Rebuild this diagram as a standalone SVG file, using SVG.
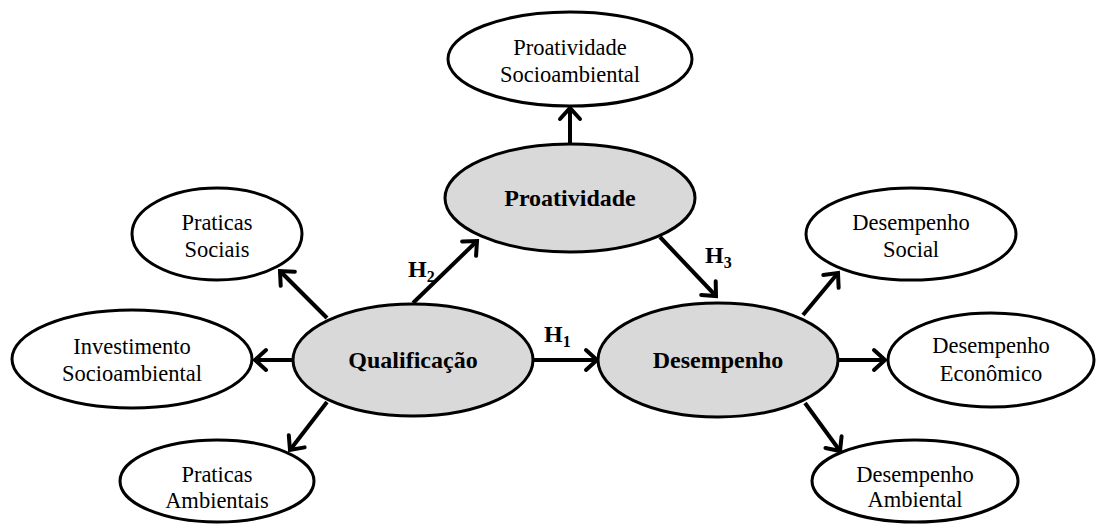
<svg xmlns="http://www.w3.org/2000/svg" width="1097" height="526" viewBox="0 0 1097 526">
<style>
.e{fill:#fff;stroke:#000;stroke-width:3}
.m{fill:#d9d9d9;stroke:#000;stroke-width:3}
.t{font-size:22.5px;text-anchor:middle;fill:#000}
.b{font-size:24px;font-weight:bold;text-anchor:middle;fill:#000}
.h{font-size:24px;font-weight:bold;fill:#000}
.c line{stroke:#000;stroke-width:4;marker-end:url(#a)}
</style>
<defs>
<marker id="a" markerUnits="userSpaceOnUse" markerWidth="20" markerHeight="26" refX="15" refY="13" orient="auto" viewBox="0 0 20 26">
<path d="M4,3 L15,13 L4,23" fill="none" stroke="#000" stroke-width="4" stroke-linecap="round"/>
</marker>
</defs>
<rect width="1097" height="526" fill="#fff"/>
<g class="c" id="connectors">
<line x1="570" y1="144" x2="570" y2="108"/>
<line x1="413" y1="303" x2="477" y2="241"/>
<line x1="660" y1="237" x2="716" y2="296"/>
<line x1="533" y1="360" x2="597" y2="360"/>
<line x1="327" y1="318" x2="280" y2="271"/>
<line x1="293" y1="360" x2="255" y2="360"/>
<line x1="327" y1="402" x2="290" y2="450"/>
<line x1="803" y1="315" x2="838" y2="273"/>
<line x1="838" y1="360" x2="885" y2="360"/>
<line x1="805" y1="403" x2="840" y2="451"/>
</g>
<g font-family="Liberation Serif, DejaVu Serif, serif">
<g id="labels">
<text class="h" x="408" y="277">H<tspan font-size="16" dy="5">2</tspan></text>
<text class="h" x="544" y="342">H<tspan font-size="16" dy="5">1</tspan></text>
<text class="h" x="705" y="263">H<tspan font-size="16" dy="5">3</tspan></text>
</g>
<g id="proatividade-socioambiental">
<ellipse class="e" cx="570" cy="59" rx="122" ry="47"/>
<text class="t" x="570" y="55">Proatividade</text>
<text class="t" x="570" y="82">Socioambiental</text>
</g>
<g id="proatividade">
<ellipse class="m" cx="570" cy="198" rx="125" ry="54"/>
<text class="b" x="570" y="206">Proatividade</text>
</g>
<g id="qualificacao">
<ellipse class="m" cx="413" cy="360" rx="120" ry="56"/>
<text class="b" x="413" y="368">Qualificação</text>
</g>
<g id="desempenho">
<ellipse class="m" cx="718" cy="360" rx="120" ry="57"/>
<text class="b" x="718" y="368">Desempenho</text>
</g>
<g id="praticas-sociais">
<ellipse class="e" cx="217" cy="234" rx="85" ry="46"/>
<text class="t" x="217" y="230">Praticas</text>
<text class="t" x="217" y="257">Sociais</text>
</g>
<g id="investimento-socioambiental">
<ellipse class="e" cx="132" cy="359" rx="120" ry="49"/>
<text class="t" x="132" y="354">Investimento</text>
<text class="t" x="132" y="381">Socioambiental</text>
</g>
<g id="praticas-ambientais">
<ellipse class="e" cx="217" cy="481" rx="97" ry="41"/>
<text class="t" x="217" y="482">Praticas</text>
<text class="t" x="217" y="508">Ambientais</text>
</g>
<g id="desempenho-social">
<ellipse class="e" cx="911" cy="234" rx="105" ry="46"/>
<text class="t" x="911" y="230">Desempenho</text>
<text class="t" x="911" y="257">Social</text>
</g>
<g id="desempenho-economico">
<ellipse class="e" cx="991" cy="360" rx="103" ry="47"/>
<text class="t" x="991" y="353">Desempenho</text>
<text class="t" x="991" y="381">Econômico</text>
</g>
<g id="desempenho-ambiental">
<ellipse class="e" cx="915" cy="481" rx="103" ry="41"/>
<text class="t" x="915" y="482">Desempenho</text>
<text class="t" x="915" y="507">Ambiental</text>
</g>
</g>
</svg>
